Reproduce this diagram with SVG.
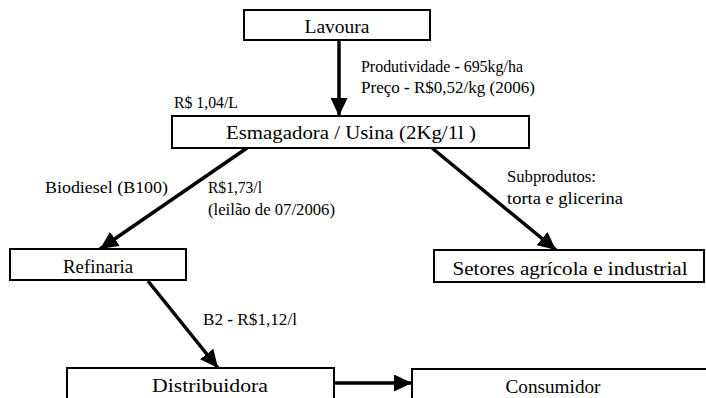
<svg xmlns="http://www.w3.org/2000/svg" width="706" height="398" viewBox="0 0 706 398">
<defs>
<marker id="ah" markerUnits="userSpaceOnUse" markerWidth="19" markerHeight="17" refX="18" refY="8.5" orient="auto">
<path d="M0,0 L18,8.5 L0,17 z" fill="#000"/>
</marker>
<style>
.box{fill:#fff;stroke:#000;stroke-width:2}
.t{font-family:"Liberation Serif","Times New Roman",serif;font-size:19px;fill:#000}
.l{font-family:"Liberation Serif","Times New Roman",serif;font-size:16px;fill:#000}
.c{stroke:#000;stroke-width:3.5;fill:none;marker-end:url(#ah)}
.b{font-weight:bold}
</style>
</defs>
<rect width="706" height="398" fill="#fff"/>
<g id="connectors">
<line class="c" x1="339" y1="40" x2="339" y2="116"/>
<line class="c" x1="247" y1="148" x2="100" y2="249"/>
<line class="c" x1="432" y1="148" x2="556" y2="250"/>
<line class="c" x1="148" y1="281" x2="218" y2="368"/>
<line class="c" x1="335" y1="383" x2="412" y2="383"/>
</g>
<g id="lavoura"><rect class="box" x="244" y="10" width="186" height="30"/><text class="t" x="337" y="33" text-anchor="middle" textLength="65" lengthAdjust="spacingAndGlyphs">Lavoura</text></g>
<g id="esmagadora"><rect class="box" x="172" y="116" width="357" height="32"/><text class="t" x="351" y="139" text-anchor="middle" textLength="250" lengthAdjust="spacingAndGlyphs">Esmagadora / Usina (2Kg/1l )</text></g>
<g id="refinaria"><rect class="box" x="10" y="249" width="176" height="31"/><text class="t" x="98" y="273" text-anchor="middle" textLength="70" lengthAdjust="spacingAndGlyphs">Refinaria</text></g>
<g id="setores"><rect class="box" x="434" y="250" width="270" height="32"/><text class="t" x="570" y="275" text-anchor="middle" textLength="235" lengthAdjust="spacingAndGlyphs">Setores agrícola e industrial</text></g>
<g id="distribuidora"><rect class="box" x="67" y="368" width="267" height="40"/><text class="t" x="210" y="392" text-anchor="middle" textLength="116" lengthAdjust="spacingAndGlyphs">Distribuidora</text></g>
<g id="consumidor"><rect class="box" x="412" y="369" width="300" height="40"/><text class="t" x="553" y="393" text-anchor="middle" textLength="95" lengthAdjust="spacingAndGlyphs">Consumidor</text></g>
<g id="labels">
<text class="l" x="361" y="72" textLength="162" lengthAdjust="spacingAndGlyphs">Produtividade <tspan class="b">-</tspan> 695kg/ha</text>
<text class="l" x="361" y="93" textLength="174" lengthAdjust="spacingAndGlyphs">Preço <tspan class="b">-</tspan> R$0,52/kg (2006)</text>
<text class="l" x="174" y="108" textLength="64" lengthAdjust="spacingAndGlyphs">R$ 1,04/L</text>
<text class="l" x="45" y="193" textLength="123" lengthAdjust="spacingAndGlyphs">Biodiesel (B100)</text>
<text class="l" x="208" y="193" textLength="54" lengthAdjust="spacingAndGlyphs">R$1,73/l</text>
<text class="l" x="208" y="215" textLength="127" lengthAdjust="spacingAndGlyphs">(leilão de 07/2006)</text>
<text class="l" x="507" y="182" textLength="89" lengthAdjust="spacingAndGlyphs">Subprodutos:</text>
<text class="l" x="507" y="204" textLength="116" lengthAdjust="spacingAndGlyphs">torta e glicerina</text>
<text class="l" x="203" y="325" textLength="94" lengthAdjust="spacingAndGlyphs">B2 <tspan class="b">-</tspan> R$1,12/l</text>
</g>
</svg>
